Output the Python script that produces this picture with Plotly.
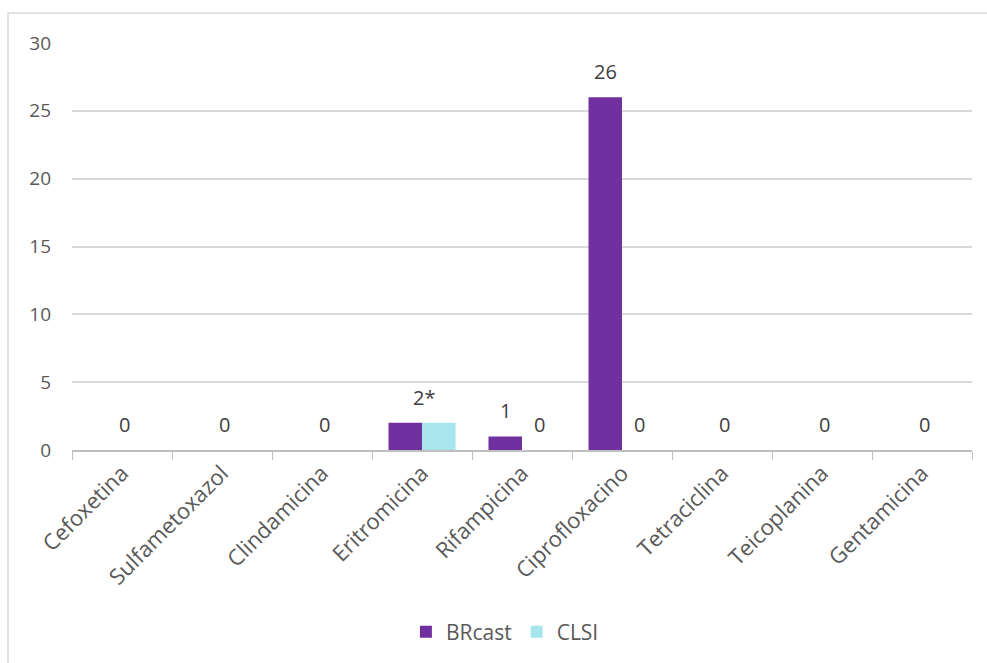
import plotly.graph_objects as go

# Resistance counts per antibiotic, by breakpoint standard
categories = ["Cefoxetina", "Sulfametoxazol", "Clindamicina", "Eritromicina",
              "Rifampicina", "Ciprofloxacino", "Tetraciclina", "Teicoplanina", "Gentamicina"]
brcast = [0, 0, 0, 2, 1, 26, 0, 0, 0]
clsi = [0, 0, 0, 2, 0, 0, 0, 0, 0]
label_marks = ["", "", "", "*", "", "", "", "", ""]

y_ticks = [0, 5, 10, 15, 20, 25, 30]

PURPLE = "#7030A0"
CYAN = "#A8E6EE"
TEXT = "#595959"
FONT = "Open Sans"

fig = go.Figure()
fig.add_trace(go.Bar(name="BRcast", x=categories, y=brcast, marker_color=PURPLE,
                     marker_line_width=0))
fig.add_trace(go.Bar(name="CLSI", x=categories, y=clsi, marker_color=CYAN,
                     marker_line_width=0))

# Value labels: one centred label when both series agree, otherwise one per bar
annotations = []
for cat, b, c, mark in zip(categories, brcast, clsi, label_marks):
    if b == c:
        pairs = [(b, 2, f"{b}{mark}")]
    else:
        pairs = [(b, -17, f"{b}"), (c, 17, f"{c}{mark}")]
    for val, dx, txt in pairs:
        annotations.append(dict(
            x=cat, y=val, xref="x", yref="y", text=txt, showarrow=False,
            xshift=dx, yshift=10, yanchor="bottom",
            font=dict(family=FONT, size=20, color="#404040")))

fig.update_layout(
    width=987, height=663,
    margin=dict(l=72, r=15, t=43, b=212),
    paper_bgcolor="white", plot_bgcolor="white",
    barmode="group", bargap=0.33, bargroupgap=0,
    font=dict(family=FONT, size=19, color=TEXT),
    annotations=annotations,
    legend=dict(orientation="h", x=0.481, y=-0.444, xanchor="center", yanchor="middle",
                font=dict(family=FONT, size=21, color=TEXT), itemwidth=30,
                traceorder="normal"),
    shapes=[dict(type="rect", xref="paper", yref="paper",
                 x0=-0.0711, x1=1.03, y0=-0.6, y1=1.0735,
                 line=dict(color="#d9d9d9", width=1.5), layer="below")],
)

fig.update_xaxes(
    type="category", tickangle=-45, tickson="boundaries", ticks="outside",
    ticklen=8, tickcolor="#bfbfbf", showline=True, linecolor="#bfbfbf", linewidth=1.5,
    showgrid=False, tickfont=dict(family=FONT, size=22, color=TEXT))
fig.update_yaxes(
    range=[0, 30], tickvals=y_ticks, showgrid=True, gridcolor="#d9d9d9", gridwidth=1.5,
    zeroline=False, showline=False, ticks="", ticklabelstandoff=20,
    tickfont=dict(family=FONT, size=19, color=TEXT))

fig.write_html("out.html")
